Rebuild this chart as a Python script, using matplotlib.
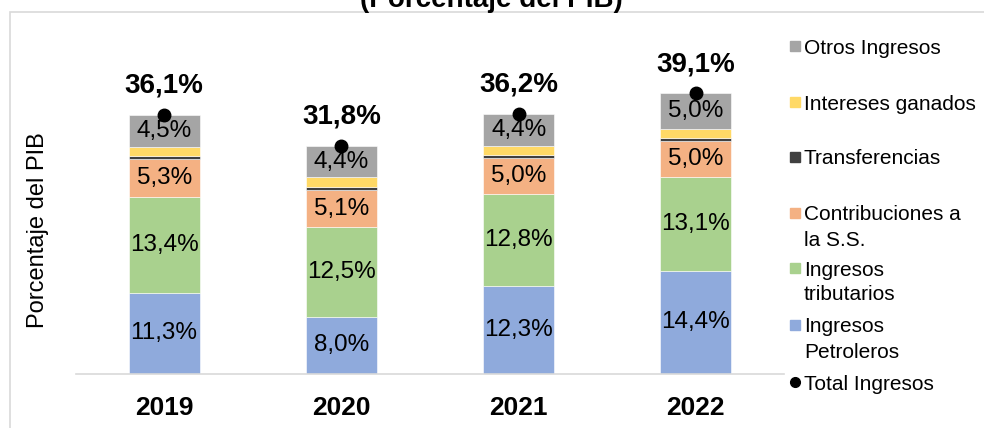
import matplotlib
matplotlib.use("Agg")
import matplotlib.pyplot as plt
from matplotlib.patches import Rectangle
from matplotlib.lines import Line2D
import numpy as np

plt.rcParams['font.family'] = ['Liberation Sans', 'DejaVu Sans']

years = ['2019', '2020', '2021', '2022']
petroleros = [11.3, 8.0, 12.3, 14.4]
tributarios = [13.4, 12.5, 12.8, 13.1]
contribuciones = [5.3, 5.1, 5.0, 5.0]
transferencias = [0.4, 0.5, 0.4, 0.4]
intereses = [1.2, 1.3, 1.3, 1.2]
otros = [4.5, 4.4, 4.4, 5.0]
totales = [36.1, 31.8, 36.2, 39.1]

series = [
    ('Ingresos\nPetroleros', petroleros, '#8FAADC', True),
    ('Ingresos\ntributarios', tributarios, '#A9D18E', True),
    ('Contribuciones a\nla S.S.', contribuciones, '#F4B183', True),
    ('Transferencias', transferencias, '#404040', False),
    ('Intereses ganados', intereses, '#FFD966', False),
    ('Otros Ingresos', otros, '#A5A5A5', True),
]

W, H = 984, 428
fig = plt.figure(figsize=(W / 100, H / 100), dpi=100)


def fx(x):
    return x / W


def fy(y):
    return 1 - y / H


# outer frame (cut off at right/bottom in the original)
fig.patches.append(Rectangle((fx(10), fy(H + 5)), 1.2, fy(12) - fy(H + 5),
                             transform=fig.transFigure, fill=False,
                             edgecolor='#D9D9D9', linewidth=1.2))

fig.text(fx(491), fy(7), '(Porcentaje del PIB)', ha='center', va='baseline',
         fontsize=20, fontweight='bold')

ax = fig.add_axes([fx(75.5), fy(374), fx(784.5) - fx(75.5), fy(51) - fy(374)])
x = np.arange(len(years))
bottom = np.zeros(len(years))
for name, vals, color, show in series:
    vals = np.array(vals)
    ax.bar(x, vals, width=0.4, bottom=bottom, color=color, edgecolor='white',
           linewidth=0.4)
    if show:
        for xi, b, v in zip(x, bottom, vals):
            ax.text(xi, b + v / 2, f'{v:.1f}%'.replace('.', ','), ha='center',
                    va='center', fontsize=17.5)
    bottom += vals

ax.plot(x, totales, 'o', color='black', markersize=9, zorder=5)
for xi, t in zip(x, totales):
    ax.annotate(f'{t:.1f}%'.replace('.', ','), (xi, t), xytext=(0, 16),
                textcoords='offset points', ha='center', va='baseline',
                fontsize=20, fontweight='bold')

ax.set_xlim(-0.5, len(years) - 0.5)
ax.set_ylim(0, 45)
ax.set_xticks(x)
ax.set_xticklabels(years, fontsize=19, fontweight='bold')
ax.tick_params(axis='x', length=0, pad=16)
ax.set_yticks([])
for s in ['top', 'right', 'left']:
    ax.spines[s].set_visible(False)
ax.spines['bottom'].set_color('#D9D9D9')
ax.spines['bottom'].set_linewidth(1.2)

fig.text(fx(38), fy(230), 'Porcentaje del PIB', rotation=90, ha='center',
         va='center', fontsize=17)

# legend, drawn by hand to match the original layout
leg_rows = [46, 102, 157, 213, 268, 325]
for (name, vals, color, show), yc in zip(series[::-1], leg_rows):
    fig.patches.append(Rectangle((fx(790), fy(yc + 5)), fx(10), fy(yc - 5) - fy(yc + 5),
                                 transform=fig.transFigure, color=color))
    for k, line in enumerate(name.split('\n')):
        fig.text(fx(804), fy(yc + 7.5 + 25 * k), line, ha='left', va='baseline',
                 fontsize=15)
fig.lines.append(Line2D([fx(795)], [fy(382)], marker='o', color='black',
                        markersize=7, transform=fig.transFigure))
fig.text(fx(804), fy(382 + 7.5), 'Total Ingresos', ha='left', va='baseline',
         fontsize=15)

fig.savefig('out.png', dpi=100)
